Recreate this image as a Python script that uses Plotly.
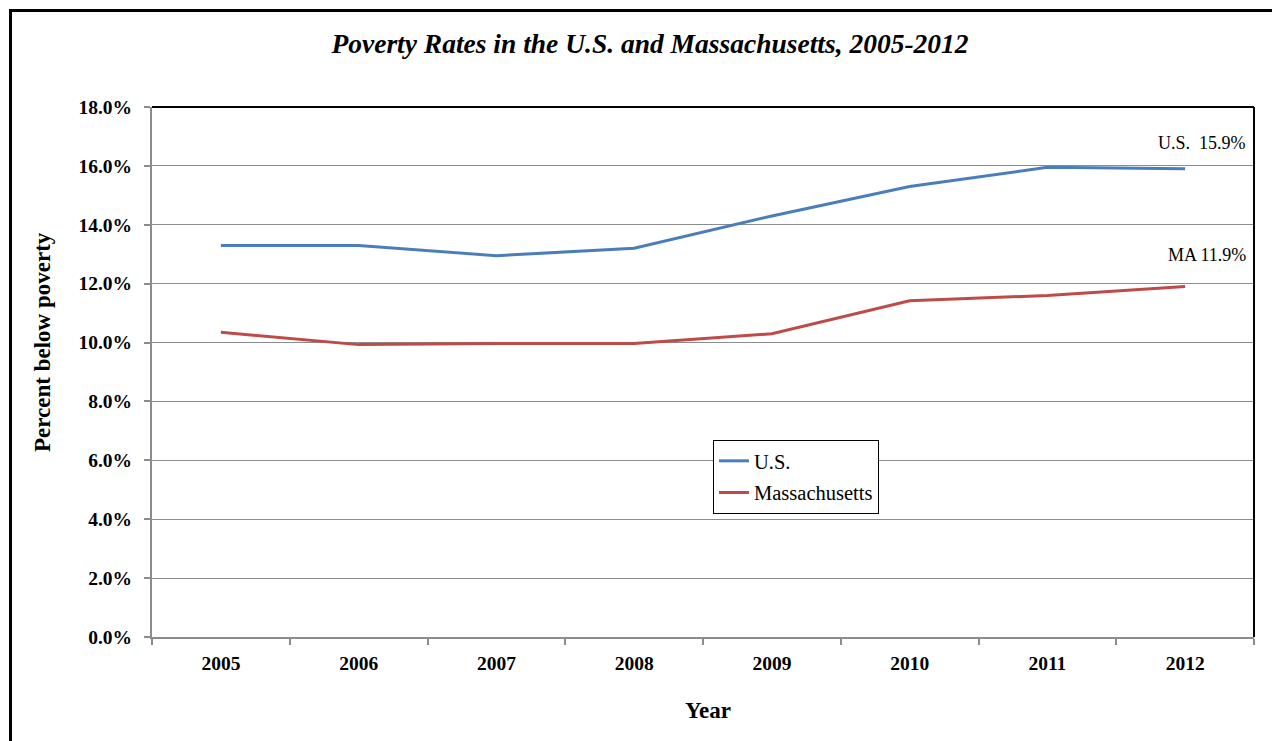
import plotly.graph_objects as go

years = ["2005", "2006", "2007", "2008", "2009", "2010", "2011", "2012"]
us_rate = [13.3, 13.3, 12.95, 13.2, 14.3, 15.3, 15.95, 15.9]
ma_rate = [10.35, 9.93, 9.97, 9.97, 10.3, 11.42, 11.6, 11.9]
y_ticks = [0, 2, 4, 6, 8, 10, 12, 14, 16, 18]

SERIF = "Liberation Serif, Times New Roman, serif"
BLUE = "#4A7EBB"
RED = "#BE4B48"
GRID = "#8C8C8C"

fig = go.Figure()
fig.add_trace(go.Scatter(x=years, y=us_rate, mode="lines", name="U.S.", legendgroup="us",
                         line=dict(color=BLUE, width=3)))
fig.add_trace(go.Scatter(x=years, y=ma_rate, mode="lines", name="Massachusetts", legendgroup="ma",
                         line=dict(color=RED, width=3)))

# page has an 8px body margin; work in screen pixels and convert
OFF = 8
W, H = 1272, 733
L, T = 152 - OFF, 107 - OFF
R = W - (1254 - OFF)
B = H - (637 - OFF)
pw, ph = W - L - R, H - T - B

def px_to_paper_x(px):
    return (px - OFF - L) / pw

def px_to_paper_y(py):
    return (H - B - (py - OFF)) / ph

fig.update_layout(
    width=W, height=H,
    margin=dict(l=L, r=R, t=T, b=B),
    paper_bgcolor="white", plot_bgcolor="white",
    font=dict(family=SERIF, color="black"),
    title=dict(text="<b><i>Poverty Rates in the U.S. and Massachusetts, 2005-2012</i></b>",
               x=(650 - OFF) / W, xanchor="center", y=1 - (43 - OFF) / H, yanchor="middle",
               font=dict(size=27.5, family=SERIF, color="black")),
    showlegend=True,
    legend=dict(x=px_to_paper_x(713), y=px_to_paper_y(440), xanchor="left", yanchor="top",
                bgcolor="white", bordercolor="black", borderwidth=1,
                font=dict(size=20.5, family=SERIF, color="black"),
                tracegroupgap=2, itemwidth=30),
)

fig.update_xaxes(
    type="category", range=[-0.5, 7.5], tickson="boundaries",
    ticks="outside", ticklen=6, tickcolor=GRID, tickwidth=1.5,
    showline=True, linecolor=GRID, linewidth=2, showgrid=False,
    tickfont=dict(size=19.5, family=SERIF, color="black"),
    ticklabelstandoff=8,
    tickprefix="<b>", ticksuffix="</b>",
)
fig.update_yaxes(
    range=[0, 18], tickvals=y_ticks,
    ticktext=[f"<b>{v:.1f}%</b>" for v in y_ticks],
    ticks="outside", ticklen=6, tickcolor=GRID, tickwidth=1.5,
    showline=True, linecolor=GRID, linewidth=2,
    showgrid=True, gridcolor=GRID, gridwidth=1, zeroline=False,
    tickfont=dict(size=19.5, family=SERIF, color="black"),
    ticklabelstandoff=8,
)

# plot-area top and right borders (black)
fig.add_shape(type="line", xref="x domain", yref="y domain", x0=0, x1=1, y0=1, y1=1,
              line=dict(color="black", width=2))
fig.add_shape(type="line", xref="x domain", yref="y domain", x0=1, x1=1, y0=0, y1=1,
              line=dict(color="black", width=2))
# outer chart frame
fig.add_shape(type="rect", xref="paper", yref="paper",
              x0=px_to_paper_x(10.5), x1=px_to_paper_x(1300),
              y0=px_to_paper_y(760), y1=px_to_paper_y(10.5),
              line=dict(color="black", width=3), fillcolor="rgba(0,0,0,0)", layer="below")

# axis titles
fig.add_annotation(text="<b>Percent below poverty</b>", xref="paper", yref="paper",
                   x=px_to_paper_x(42), y=px_to_paper_y(342), textangle=-90,
                   showarrow=False, xanchor="center", yanchor="middle",
                   font=dict(size=23, family=SERIF, color="black"))
fig.add_annotation(text="<b>Year</b>", xref="paper", yref="paper",
                   x=px_to_paper_x(708), y=px_to_paper_y(710),
                   showarrow=False, xanchor="center", yanchor="middle",
                   font=dict(size=23, family=SERIF, color="black"))

# end labels
fig.add_annotation(text=f"U.S.&nbsp; {us_rate[-1]:.1f}%", xref="paper", yref="paper",
                   x=px_to_paper_x(1248), y=px_to_paper_y(143),
                   showarrow=False, xanchor="right", yanchor="middle",
                   font=dict(size=18, family=SERIF, color="black"))
fig.add_annotation(text=f"MA {ma_rate[-1]:.1f}%", xref="paper", yref="paper",
                   x=px_to_paper_x(1248), y=px_to_paper_y(255),
                   showarrow=False, xanchor="right", yanchor="middle",
                   font=dict(size=18, family=SERIF, color="black"))

fig.write_html("out.html")
